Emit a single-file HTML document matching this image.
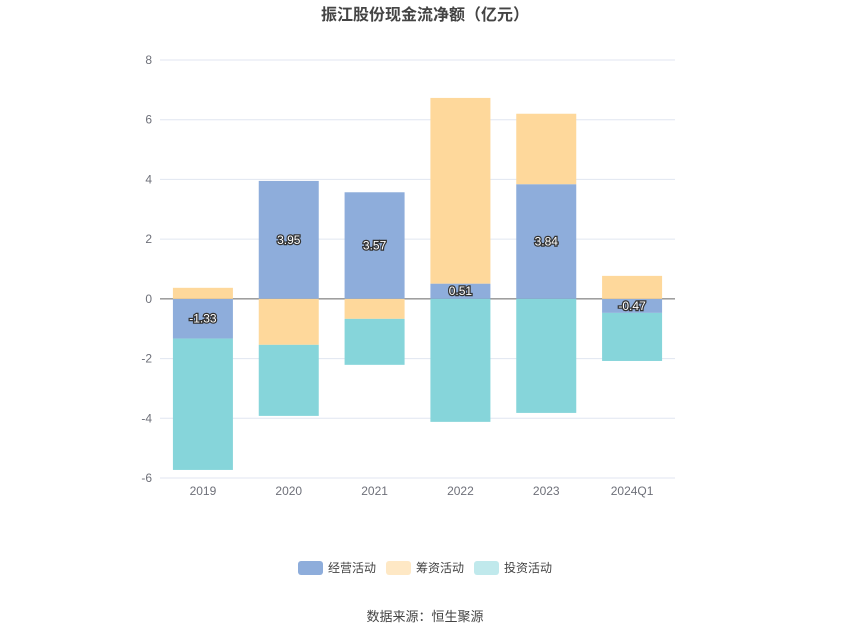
<!DOCTYPE html>
<html><head><meta charset="utf-8"><style>
body{margin:0;background:#fff;font-family:"Liberation Sans","Noto Sans CJK SC",sans-serif}
</style></head><body>
<svg id="c" width="850" height="637" xmlns="http://www.w3.org/2000/svg" style="font-family:'Liberation Sans','Noto Sans CJK SC',sans-serif">
<text x="425" y="20" text-anchor="middle" font-size="16" font-weight="bold" fill="#444">振江股份现金流净额（亿元）</text>
<g id="grid"></g><g id="bars"></g><g id="labels"></g>
<g font-size="12" fill="#444">
<rect x="298" y="561" width="25" height="14" rx="3" fill="#8eaddb"/><text x="328" y="572">经营活动</text>
<rect x="386" y="561" width="25" height="14" rx="3" fill="#fee8c5"/><text x="416" y="572">筹资活动</text>
<rect x="474" y="561" width="25" height="14" rx="3" fill="#c0e9ec"/><text x="504" y="572">投资活动</text>
</g>
<text x="425" y="621" text-anchor="middle" font-size="13" fill="#444">数据来源：恒生聚源</text>
</svg>
<script>
const categories=["2019","2020","2021","2022","2023","2024Q1"];
const operating=[-1.33,3.95,3.57,0.51,3.84,-0.47];
const financing=[0.37,-1.54,-0.67,6.22,2.36,0.77];
const investing=[-4.40,-2.38,-1.54,-4.12,-3.82,-1.61];
const yTicks=[-6,-4,-2,0,2,4,6,8];
const NS="http://www.w3.org/2000/svg";
const x0=160,x1=675,yTop=60,yBot=478,yMin=-6,yMax=8;
const y=v=>yTop+(yMax-v)/(yMax-yMin)*(yBot-yTop);
const bw=(x1-x0)/categories.length;
const xc=i=>x0+bw*(i+0.5);
function mk(t,a,p){const e=document.createElementNS(NS,t);for(const k in a)e.setAttribute(k,a[k]);p.appendChild(e);return e;}
const g=document.getElementById('grid');
yTicks.forEach(t=>{
 const l=mk('line',{x1:x0,x2:x1,y1:y(t),y2:y(t),stroke:t===0?'#666':'#e0e6f1'},g);
 
 
 const tx=mk('text',{x:152,y:y(t)+4,'text-anchor':'end','font-size':12,fill:'#6e7079'},g);
 
 
 tx.textContent=t;
});
categories.forEach((c,i)=>{
 const tx=mk('text',{x:xc(i),y:495,'text-anchor':'middle','font-size':12,fill:'#6e7079'},g);
 
 
 tx.textContent=c;
});
const bars=document.getElementById('bars'),lab=document.getElementById('labels');
const series=[[operating,'#8eaddb','operating'],[financing,'#fed89b','financing'],[investing,'#86d5da','investing']];
categories.forEach((c,i)=>{
 let pos=0,neg=0;
 series.forEach(([arr,col,nm])=>{
  const v=arr[i];let a,b;
  if(v>=0){a=pos;b=pos+v;pos=b;}else{a=neg;b=neg+v;neg=b;}
  const r=mk('rect',{x:xc(i)-30,width:60,y:Math.min(y(a),y(b)),height:Math.abs(y(a)-y(b)),fill:col},bars);
  
  
  if(nm==='operating'){
   const t=mk('text',{x:xc(i),y:(y(a)+y(b))/2+4,'text-anchor':'middle','font-size':12,fill:'#fff',stroke:'#333','stroke-width':2.5,'paint-order':'stroke'},lab);
   
   
   t.textContent=v.toFixed(2);
  }
 });
});
</script>
</body></html>
